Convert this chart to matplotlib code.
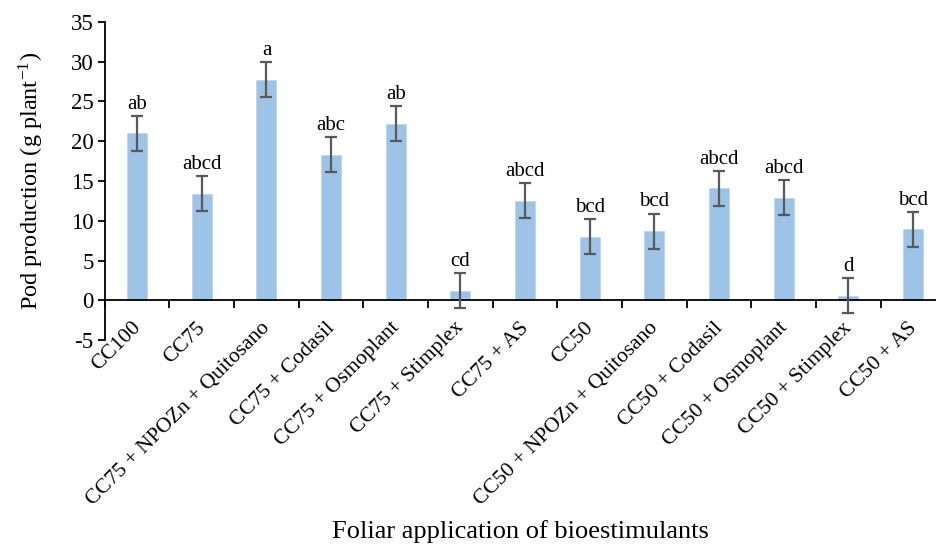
import numpy as np
import matplotlib
matplotlib.use("Agg")
import matplotlib.pyplot as plt
from matplotlib.ticker import FixedLocator
from matplotlib.transforms import ScaledTranslation

plt.rcParams["font.family"] = ["Liberation Serif", "DejaVu Serif"]
plt.rcParams["mathtext.fontset"] = "stix"
plt.rcParams["axes.unicode_minus"] = False

# data
treatments = ["CC100", "CC75", "CC75 + NPOZn + Quitosano", "CC75 + Codasil",
              "CC75 + Osmoplant", "CC75 + Stimplex", "CC75 + AS", "CC50",
              "CC50 + NPOZn + Quitosano", "CC50 + Codasil", "CC50 + Osmoplant",
              "CC50 + Stimplex", "CC50 + AS"]
pod_mean = [21.0, 13.4, 27.7, 18.3, 22.2, 1.2, 12.5, 8.0, 8.7, 14.1, 12.9, 0.6, 8.9]
pod_err = [2.2, 2.2, 2.2, 2.2, 2.2, 2.2, 2.2, 2.2, 2.2, 2.2, 2.2, 2.2, 2.2]
letters = ["ab", "abcd", "a", "abc", "ab", "cd", "abcd", "bcd", "bcd",
           "abcd", "abcd", "d", "bcd"]

x = np.arange(len(treatments))

fig = plt.figure(figsize=(9.36, 5.45), dpi=100)
ax = fig.add_axes([0.112, 0.376, 0.898, 0.584])

# spines first (set_position resets the ticks)
ax.spines["bottom"].set_position(("data", 0))
ax.spines["top"].set_visible(False)
ax.spines["right"].set_visible(False)
for s in ("left", "bottom"):
    ax.spines[s].set_linewidth(1.3)

ax.bar(x, pod_mean, width=0.31, color="#9dc3e6", edgecolor="#bdd7ee",
       linewidth=0.6, zorder=2)
ax.errorbar(x, pod_mean, yerr=pod_err, fmt="none", ecolor="#595959",
            elinewidth=1.6, capsize=4.5, capthick=1.6, zorder=3)

for xi, m, e, lab in zip(x, pod_mean, pod_err, letters):
    ax.annotate(lab, (xi, m + e), xytext=(0, 1.5), textcoords="offset points",
                ha="center", va="bottom", fontsize=15)

ax.set_xlim(-0.5, len(treatments) - 0.5)
ax.set_ylim(-5, 35)
ax.set_yticks(np.arange(-5, 36, 5))
ax.tick_params(axis="y", labelsize=16.5, direction="out", length=5,
               width=1.3, pad=3)

# labels at centres (major), boundary tick marks (minor)
ax.set_xticks(x)
ax.xaxis.set_minor_locator(FixedLocator(np.arange(-0.5, len(treatments), 1)))
ax.tick_params(axis="x", which="major", length=0, pad=13)
ax.tick_params(axis="x", which="minor", direction="out", length=6, width=1.3)
ax.set_xticklabels(treatments, rotation=45, ha="right",
                   rotation_mode="anchor", fontsize=15.5)
shift = ScaledTranslation(-6 / 100, 0, fig.dpi_scale_trans)
for lab in ax.get_xticklabels():
    lab.set_transform(lab.get_transform() + shift)

ax.set_ylabel("Pod production (g plant$^{\\mathregular{-1}}$)", fontsize=17.5,
              labelpad=18)
fig.text(0.556, 0.024, "Foliar application of bioestimulants", ha="center",
         va="center", fontsize=19)

fig.savefig("out.png", dpi=100)
